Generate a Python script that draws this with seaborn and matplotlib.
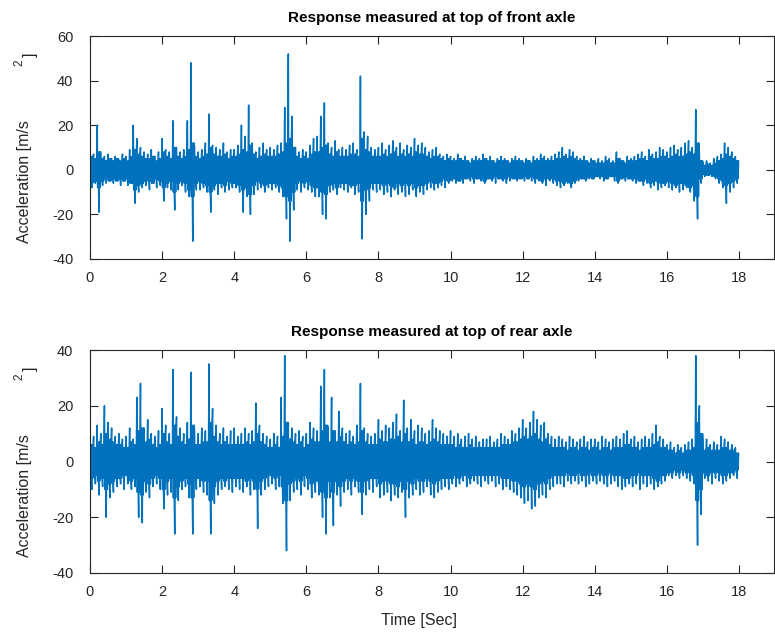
import numpy as np
import pandas as pd
import matplotlib
matplotlib.use("Agg")
import matplotlib.pyplot as plt
import seaborn as sns

# ---- data (values per 0.1 s bin) ----
# highest peak, lowest trough, and typical dense-band half-width in each bin
front_hi = [10, 7, 20, 8, 6, 7, 5, 6, 4, 7,
            6, 9, 20, 14, 10, 8, 7, 9, 6, 8,
            14, 9, 8, 22, 10, 8, 9, 22, 48, 10,
            8, 9, 12, 25, 11, 10, 9, 12, 8, 9,
            9, 11, 20, 15, 29, 12, 8, 10, 12, 9,
            10, 9, 11, 12, 28, 52, 24, 10, 8, 9,
            8, 11, 14, 15, 24, 30, 12, 10, 13, 9,
            10, 9, 11, 12, 9, 42, 17, 15, 10, 9,
            10, 12, 9, 11, 13, 10, 12, 9, 11, 10,
            14, 11, 12, 10, 8, 9, 10, 7, 6, 7,
            6, 5, 7, 5, 6, 4, 5, 6, 5, 7,
            5, 6, 4, 5, 6, 5, 4, 5, 6, 5,
            4, 5, 4, 6, 5, 7, 6, 5, 6, 7,
            8, 10, 7, 9, 8, 6, 5, 6, 4, 5,
            4, 5, 4, 6, 5, 4, 8, 5, 4, 6,
            5, 6, 7, 8, 6, 9, 7, 8, 10, 9,
            8, 10, 11, 9, 10, 12, 13, 10, 27, 8,
            3, 4, 3, 5, 6, 7, 12, 10, 8, 6]
front_lo = [-8, -6, -19, -7, -6, -5, -6, -4, -7, -5,
            -7, -6, -15, -10, -8, -7, -9, -6, -8, -7,
            -14, -8, -9, -18, -9, -7, -10, -12, -32, -9,
            -9, -8, -10, -19, -9, -11, -8, -10, -9, -8,
            -8, -10, -19, -12, -20, -11, -9, -8, -10, -8,
            -9, -8, -10, -12, -22, -32, -18, -9, -10, -8,
            -9, -10, -12, -12, -20, -22, -10, -9, -11, -8,
            -9, -10, -8, -11, -10, -31, -20, -14, -9, -10,
            -9, -11, -10, -12, -9, -11, -10, -12, -11, -9,
            -12, -10, -11, -9, -8, -9, -8, -7, -8, -6,
            -5, -6, -5, -6, -4, -5, -6, -4, -5, -6,
            -4, -5, -6, -4, -5, -6, -5, -4, -5, -4,
            -5, -4, -5, -6, -5, -6, -7, -5, -6, -7,
            -8, -7, -6, -8, -6, -5, -4, -5, -4, -4,
            -3, -4, -5, -4, -3, -5, -6, -4, -5, -4,
            -5, -6, -5, -7, -6, -8, -7, -9, -8, -7,
            -8, -9, -8, -10, -9, -8, -10, -14, -22, -6,
            -3, -2, -3, -4, -6, -8, -15, -10, -8, -6]
front_mid = [6, 5, 8, 5, 4, 5, 4, 5, 4, 5,
             4, 6, 9, 7, 6, 5, 5, 6, 4, 5,
             8, 6, 5, 10, 6, 5, 6, 9, 12, 6,
             5, 6, 7, 10, 7, 6, 6, 7, 5, 6,
             6, 7, 9, 8, 11, 7, 5, 6, 7, 6,
             6, 6, 7, 8, 12, 14, 10, 6, 5, 6,
             5, 7, 8, 8, 10, 11, 7, 6, 8, 6,
             6, 6, 7, 7, 6, 14, 9, 8, 6, 6,
             6, 7, 6, 7, 8, 6, 7, 6, 7, 6,
             8, 7, 7, 6, 5, 6, 6, 5, 4, 5,
             4, 4, 5, 4, 4, 3, 4, 4, 4, 5,
             4, 4, 3, 4, 4, 4, 3, 4, 4, 4,
             3, 4, 3, 4, 4, 5, 4, 4, 4, 5,
             5, 6, 5, 6, 5, 4, 4, 4, 3, 4,
             3, 3, 3, 4, 3, 3, 5, 4, 3, 4,
             4, 4, 5, 5, 4, 6, 5, 5, 6, 6,
             5, 6, 7, 6, 6, 7, 8, 7, 12, 4,
             2, 2.5, 2, 3, 4, 5, 7, 6, 5, 4]

rear_hi = [11, 9, 13, 10, 20, 14, 12, 9, 10, 8,
           9, 12, 8, 23, 28, 12, 15, 10, 9, 11,
           19, 13, 10, 33, 16, 12, 10, 14, 32, 11,
           10, 12, 11, 35, 19, 13, 10, 12, 9, 11,
           12, 9, 10, 12, 10, 11, 21, 13, 10, 9,
           8, 10, 9, 23, 38, 14, 12, 10, 11, 9,
           10, 14, 12, 11, 27, 33, 12, 23, 11, 18,
           12, 10, 11, 9, 13, 28, 12, 10, 9, 10,
           15, 11, 13, 12, 14, 17, 11, 22, 12, 15,
           11, 13, 12, 10, 11, 15, 12, 11, 10, 9,
           11, 9, 10, 8, 9, 10, 8, 9, 7, 8,
           8, 9, 7, 8, 10, 9, 8, 11, 10, 12,
           15, 12, 14, 18, 15, 13, 14, 10, 9, 8,
           9, 8, 7, 9, 8, 7, 8, 9, 7, 8,
           8, 7, 9, 8, 7, 8, 9, 8, 10, 11,
           8, 9, 7, 8, 9, 8, 10, 13, 9, 8,
           6, 7, 5, 6, 5, 6, 7, 8, 38, 20,
           7, 8, 6, 7, 6, 9, 8, 7, 6, 5]
rear_lo = [-10, -8, -12, -9, -20, -13, -11, -9, -8, -10,
           -8, -10, -9, -20, -22, -11, -13, -9, -8, -10,
           -17, -12, -11, -26, -14, -10, -9, -13, -26, -10,
           -9, -11, -12, -26, -15, -12, -10, -9, -10, -11,
           -9, -10, -11, -9, -12, -10, -24, -12, -10, -9,
           -8, -10, -9, -15, -32, -14, -11, -10, -12, -9,
           -10, -13, -11, -12, -20, -26, -13, -23, -12, -16,
           -11, -10, -12, -9, -11, -19, -12, -10, -11, -9,
           -13, -12, -11, -14, -12, -13, -11, -20, -13, -12,
           -10, -12, -11, -9, -12, -13, -11, -10, -9, -10,
           -8, -9, -8, -7, -9, -8, -7, -8, -9, -7,
           -8, -7, -9, -8, -10, -9, -10, -11, -12, -13,
           -15, -14, -17, -16, -13, -12, -13, -10, -9, -8,
           -8, -9, -7, -8, -7, -8, -7, -9, -8, -7,
           -8, -7, -8, -9, -8, -7, -9, -10, -9, -8,
           -9, -8, -10, -8, -9, -8, -10, -9, -8, -7,
           -5, -6, -5, -6, -5, -6, -7, -8, -30, -19,
           -6, -7, -8, -6, -7, -8, -7, -6, -5, -6]
rear_mid = [6, 5, 7, 6, 10, 8, 7, 6, 6, 5,
            5, 7, 6, 11, 12, 7, 8, 6, 5, 6,
            10, 7, 6, 13, 9, 7, 6, 8, 13, 6,
            6, 7, 7, 14, 9, 7, 6, 7, 6, 6,
            6, 6, 6, 7, 6, 7, 10, 7, 6, 5,
            5, 6, 5, 9, 14, 8, 7, 6, 7, 5,
            6, 8, 7, 7, 11, 13, 7, 11, 7, 9,
            7, 6, 7, 6, 7, 11, 7, 6, 6, 6,
            8, 7, 7, 8, 8, 9, 7, 10, 7, 8,
            6, 7, 7, 6, 7, 8, 7, 6, 6, 6,
            6, 5, 6, 5, 5, 6, 5, 5, 5, 5,
            5, 5, 5, 5, 6, 6, 6, 7, 7, 8,
            9, 8, 9, 10, 8, 7, 8, 6, 5, 5,
            5, 5, 4, 5, 5, 4, 5, 5, 4, 5,
            5, 4, 5, 5, 4, 5, 5, 5, 6, 6,
            5, 5, 4, 5, 5, 5, 6, 7, 5, 5,
            4, 4, 3, 4, 3, 4, 4, 5, 14, 10,
            4, 5, 4, 4, 4, 5, 5, 4, 4, 3]

bin_start = [i / 10 for i in range(180)]   # s
titles = ["Response measured at top of front axle",
          "Response measured at top of rear axle"]
xticks = [0, 2, 4, 6, 8, 10, 12, 14, 16, 18]
yticks_front = [-40, -20, 0, 20, 40, 60]
yticks_rear = [-40, -20, 0, 20, 40]


def make_frame(hi, lo, mid):
    t, a = [], []
    for s, h, l, m in zip(bin_start, hi, lo, mid):
        seq = [h, -m, m, -m, l, m, -m, m]
        t += [s + k * 0.0125 for k in range(len(seq))]
        a += seq
    return pd.DataFrame({"t": t, "a": a})


sns.set_theme(style="white")
plt.rcParams["font.family"] = ["Liberation Sans", "DejaVu Sans"]

fig = plt.figure(figsize=(7.75, 6.36), dpi=100)
W, H = 775, 636
ax_top = fig.add_axes([90 / W, 1 - 259 / H, 684 / W, 223 / H])
ax_bot = fig.add_axes([90 / W, 1 - 573 / H, 684 / W, 223 / H])

blue = "#0072BD"
specs = [(ax_top, front_hi, front_lo, front_mid, (-40, 60), yticks_front, titles[0]),
         (ax_bot, rear_hi, rear_lo, rear_mid, (-40, 40), yticks_rear, titles[1])]
for ax, hi, lo, mid, ylim, yt, title in specs:
    df = make_frame(hi, lo, mid)
    sns.lineplot(data=df, x="t", y="a", ax=ax, color=blue, lw=1.1,
                 sort=False, estimator=None)
    ax.set_xlim(0, 18.97)
    ax.set_ylim(*ylim)
    ax.set_xticks(xticks)
    ax.set_yticks(yt)
    ax.set_xticklabels([str(v) for v in xticks])
    ax.set_yticklabels([str(v) for v in yt])
    ax.tick_params(direction="in", length=6, width=0.8, color="#262626",
                   labelsize=10.5, labelcolor="#262626", pad=9,
                   top=True, right=True, bottom=True, left=True)
    ax.tick_params(axis="y", pad=12)
    for sp in ax.spines.values():
        sp.set_visible(True)
        sp.set_color("#262626")
        sp.set_linewidth(0.8)
    ax.set_title(title, fontsize=11, fontweight="bold", pad=10, color="black")
    ax.set_xlabel("")
    ax.set_ylabel("")
    ax.grid(False)

ax_bot.set_xlabel("Time [Sec]", fontsize=11.5, color="#262626")
ax_bot.xaxis.set_label_coords((419 - 90) / 684, -0.18)

# y labels with the superscript as drawn in the reference
for yc, y2, yb in [(182, 63, 55), (496, 377, 369)]:
    fig.text(25 / W, 1 - yc / H, "Acceleration [m/s", rotation=90,
             ha="center", va="center", fontsize=11.5, color="#262626")
    fig.text(19 / W, 1 - y2 / H, "2", rotation=90, ha="center",
             va="center", fontsize=8.5, color="#262626")
    fig.text(30 / W, 1 - yb / H, "]", rotation=90, ha="center",
             va="center", fontsize=11.5, color="#262626")

fig.savefig("out.png", dpi=100)
